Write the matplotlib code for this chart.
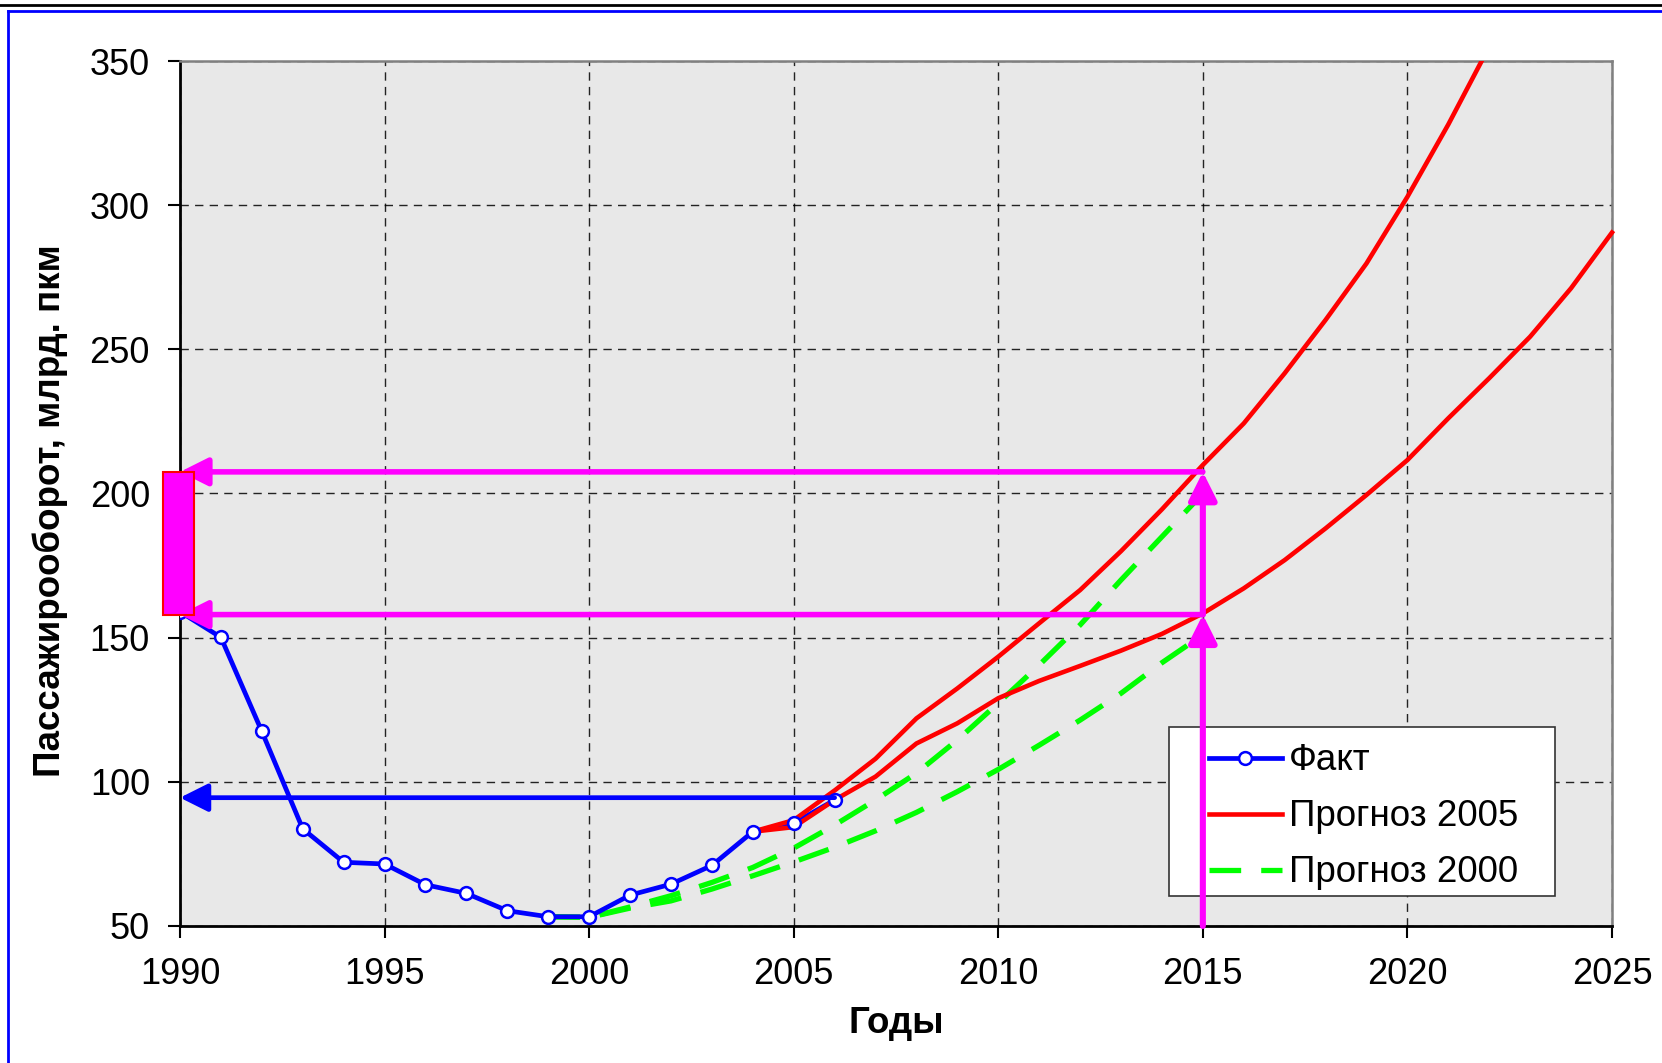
import matplotlib.pyplot as plt
from matplotlib.patches import FancyArrowPatch, Rectangle
from matplotlib.lines import Line2D

plt.rcParams['font.family'] = ['Liberation Sans', 'DejaVu Sans']

# Данные
years_fact = list(range(1990, 2007))
fact = [159.0, 150.1, 117.5, 83.7, 72.1, 71.5, 64.3, 61.3, 55.3, 53.2,
        53.2, 60.7, 64.5, 71.0, 82.7, 85.6, 93.7]

years_p05_high = list(range(2004, 2023))
p05_high = [82.7, 86.7, 97.0, 108.0, 122.0, 132.4, 143.4, 155.0, 166.5, 180.0,
            194.5, 209.9, 224.3, 241.7, 260.2, 279.8, 302.9, 328.0, 355.0]

years_p05_low = list(range(2004, 2026))
p05_low = [82.7, 84.3, 93.7, 101.8, 113.3, 120.3, 129.0, 135.0, 140.2, 145.5,
           151.3, 158.4, 167.1, 176.9, 187.9, 199.5, 211.6, 226.1, 240.0, 254.4,
           271.2, 290.5]

years_p00 = list(range(1999, 2016))
p00_high = [53.2, 53.0, 56.6, 60.5, 65.1, 70.3, 77.0, 85.0, 93.7, 103.0,
            114.5, 127.3, 140.5, 154.4, 170.0, 185.0, 200.0]
p00_low = [53.2, 53.0, 56.2, 58.7, 62.8, 67.4, 72.2, 77.3, 83.0, 89.4,
           96.6, 104.3, 112.7, 121.4, 130.7, 141.3, 151.0]

# Стрелки-пояснения
fact_level = 94.5
target_year = 2015
range_levels = [207.5, 158.0]

# Рисунок
fig = plt.figure(figsize=(16.62, 10.63), dpi=100)
ax = fig.add_axes([0.1083, 0.1289, 0.8616, 0.8137])
ax.set_facecolor('#e8e8e8')

green_dash = (6.0, 3.8)
lw_blue, lw_red, lw_green, lw_mag = 3.4, 3.3, 3.8, 4.0

ax.plot(years_p00, p00_high, color='#00ff00', lw=lw_green, dashes=green_dash, zorder=2)
ax.plot(years_p00, p00_low, color='#00ff00', lw=lw_green, dashes=green_dash, zorder=2)

ax.plot(years_fact, fact, color='#0000ff', lw=lw_blue, zorder=3)

ax.plot(years_p05_high, p05_high, color='#ff0000', lw=lw_red, zorder=4)
ax.plot(years_p05_low, p05_low, color='#ff0000', lw=lw_red, zorder=4, clip_on=False)

ax.plot(years_fact, fact, linestyle='none', marker='o', markersize=9.2,
        markerfacecolor='white', markeredgecolor='#0000ff', markeredgewidth=1.8,
        zorder=5)

# Стрелки
def arrow(p0, p1, color, lw):
    a = FancyArrowPatch(p0, p1, arrowstyle='-|>,head_length=17,head_width=8.5',
                        mutation_scale=1, color=color, lw=lw,
                        shrinkA=0, shrinkB=0, zorder=6, clip_on=False)
    ax.add_patch(a)

arrow((years_fact[-1], fact_level), (1990, fact_level), '#0000ff', lw_blue)

for lev in range_levels:
    arrow((target_year, lev), (1990, lev), '#ff00ff', lw_mag)
arrow((target_year, 50), (target_year, range_levels[1]), '#ff00ff', lw_mag + 0.4)
arrow((target_year, range_levels[1]), (target_year, range_levels[0]), '#ff00ff', lw_mag + 0.4)

rect = Rectangle((1989.58, range_levels[1]), 0.76, range_levels[0] - range_levels[1],
                 facecolor='#ff00ff', edgecolor='#ff0000', lw=1.5,
                 zorder=7, clip_on=False)
ax.add_patch(rect)

# Оси
ax.set_xlim(1990, 2025)
ax.set_ylim(50, 350)
ax.set_xticks(range(1990, 2026, 5))
ax.set_yticks(range(50, 351, 50))
ax.grid(True, color='black', linestyle=(0, (6, 4.5)), linewidth=1.0, alpha=0.85)
ax.set_axisbelow(True)

for s in ['left', 'bottom']:
    ax.spines[s].set_color('black')
    ax.spines[s].set_linewidth(2.0)
for s in ['top', 'right']:
    ax.spines[s].set_color('#808080')
    ax.spines[s].set_linewidth(1.8)

ax.tick_params(axis='both', direction='out', length=8.6, width=1.5, labelsize=26)
ax.tick_params(axis='x', pad=14)
ax.tick_params(axis='y', pad=13)

ax.set_ylabel('Пассажирооборот, млрд. пкм', fontsize=26.5, fontweight='bold')
ax.yaxis.set_label_coords(-0.0785, 0.48)
ax.set_xlabel('Годы', fontsize=26.5, fontweight='bold')
ax.xaxis.set_label_coords(0.5, -0.093)

# Легенда: рамка отдельно, текст без рамки
box = Rectangle((0.691, 0.0347), 0.269, 0.1953, transform=ax.transAxes,
                facecolor='white', edgecolor='#333333', lw=1.2, zorder=5.4)
ax.add_patch(box)

handles = [
    Line2D([], [], color='#0000ff', lw=lw_blue, marker='o', markersize=9.2,
           markerfacecolor='white', markeredgecolor='#0000ff', markeredgewidth=1.8),
    Line2D([], [], color='#ff0000', lw=lw_red),
    Line2D([], [], color='#00ff00', lw=lw_green, dashes=green_dash),
]
labels = ['Факт', 'Прогноз 2005', 'Прогноз 2000']
leg = ax.legend(handles, labels, loc='upper left', bbox_to_anchor=(0.7186, 0.211),
                fontsize=26.5, frameon=False, handlelength=1.98, handletextpad=0.2,
                labelspacing=0.57, borderpad=0, borderaxespad=0)
leg.set_zorder(5.5)

# Рамка рисунка
fig.add_artist(Line2D([0, 1], [0.9953, 0.9953], transform=fig.transFigure,
                      color='black', lw=2.0))
fig.add_artist(Line2D([0.0048, 1], [0.9897, 0.9897], transform=fig.transFigure,
                      color='#0000ff', lw=2.0))
fig.add_artist(Line2D([0.0048, 0.0048], [0, 0.9897], transform=fig.transFigure,
                      color='#0000ff', lw=2.0))

fig.savefig('out.png', dpi=100)
